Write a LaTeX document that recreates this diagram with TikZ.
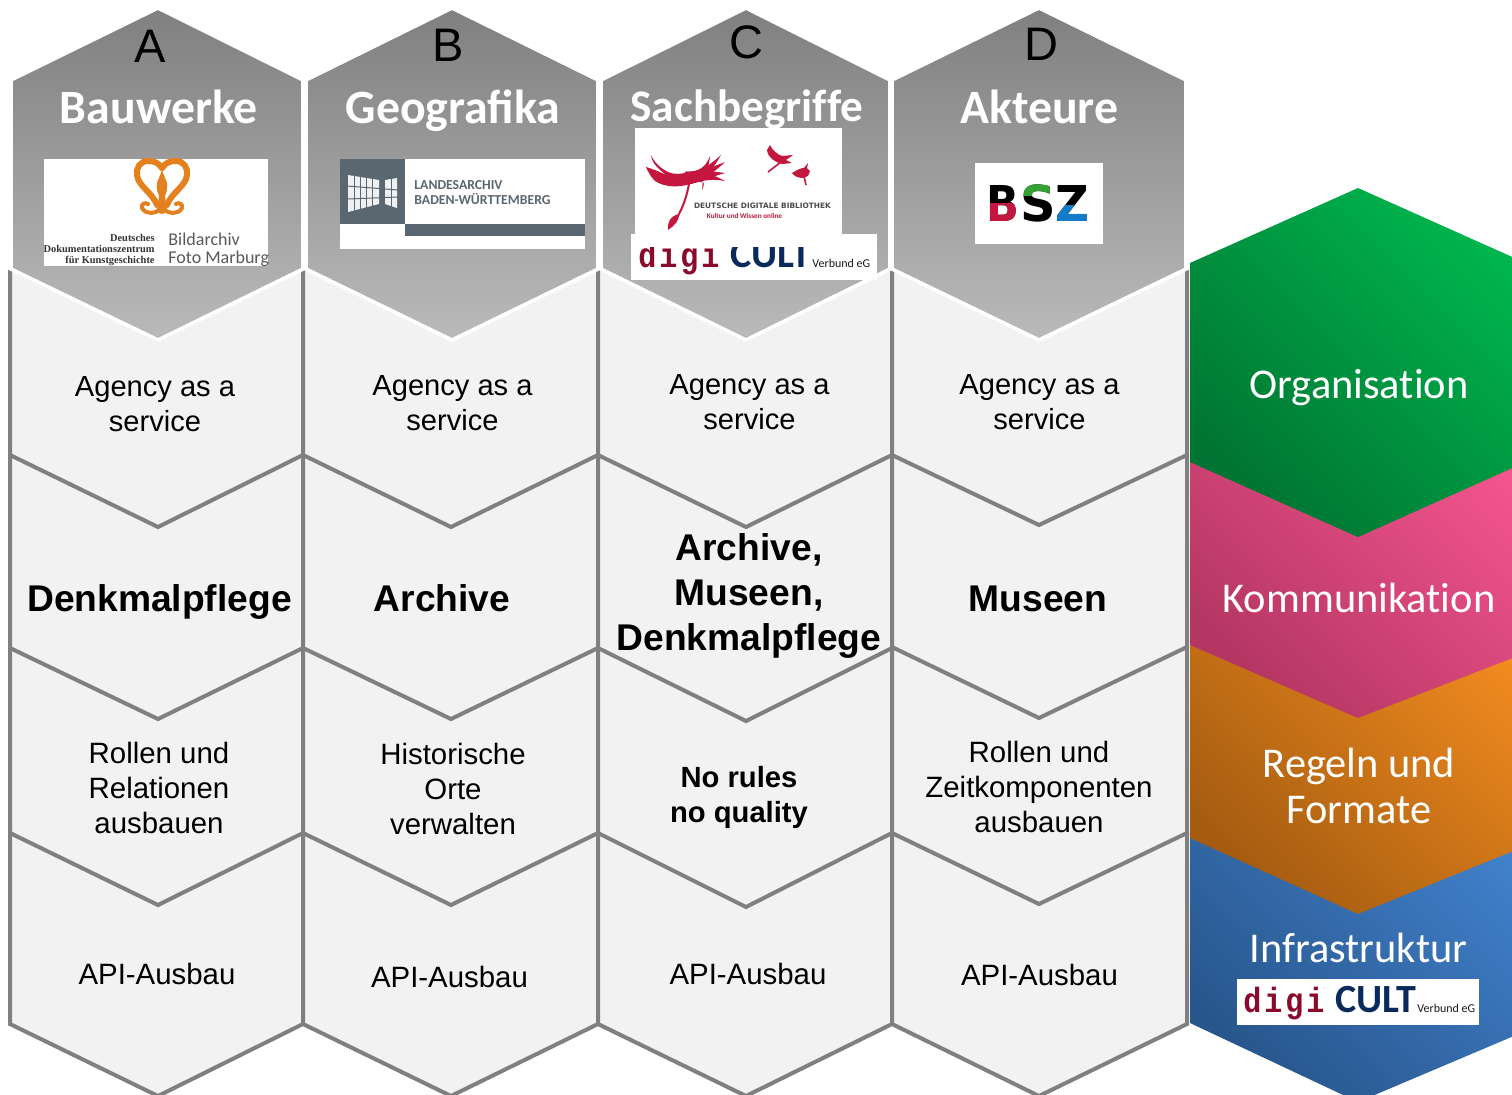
\documentclass[tikz,border=0pt]{standalone}
\usepackage{fontspec}
\setmainfont{Liberation Sans}
\newfontfamily\calfont{Carlito}
\newfontfamily\calplain[Ligatures=NoCommon]{Carlito}
\newfontfamily\monofnt[FakeStretch=0.86,LetterSpace=8.4]{Liberation Mono}
\newfontfamily\dejafnt{DejaVu Sans}
\newfontfamily\seriffnt{Liberation Serif}
\definecolor{ddbred}{HTML}{C4163F}
\definecolor{digired}{HTML}{8A0A2C}
\definecolor{diginavy}{HTML}{0B2A5C}
\definecolor{lagray}{HTML}{5A6670}
\definecolor{cellgray}{HTML}{F2F2F2}
\definecolor{cellline}{HTML}{808080}
\definecolor{ornam}{HTML}{E5801F}
\tikzset{
  cellshape/.style={fill=cellgray,draw=cellline,line width=2pt,line join=miter},
  headhex/.style={draw=white,line width=1.8pt,top color=black!50,bottom color=black!27,line join=miter},
  logobox/.style={fill=white,draw=none},
  letterlab/.style={anchor=base,inner sep=0pt,text=black,font=\fontsize{23.5}{26}\selectfont},
  headlab/.style={anchor=base,inner sep=0pt,text=white,font=\calfont\bfseries\fontsize{23.9}{26}\selectfont},
  celltext/.style={align=center,inner sep=0pt,text=black,font=\fontsize{14.7}{17.5}\selectfont},
  agencytext/.style={align=center,inner sep=0pt,text=black,font=\fontsize{14.55}{17.5}\selectfont},
  cellbold/.style={align=center,inner sep=0pt,text=black,font=\bfseries\fontsize{18.6}{22.6}\selectfont},
  cellsmallbold/.style={align=center,inner sep=0pt,text=black,font=\bfseries\fontsize{14.6}{17.5}\selectfont},
  sidelab/.style={align=center,inner sep=0pt,text=white,font=\calplain\fontsize{21.2}{23}\selectfont},
  smalltxt/.style={inner sep=0pt,anchor=base},
  bszfont/.style={inner sep=0pt,anchor=base,font=\dejafnt\bfseries\fontsize{24.7}{27}\selectfont},
}
\newcommand{\digilogo}[3]{% x of left text, baseline y, name prefix
  \node[smalltxt,anchor=base west,text=digired,font=\monofnt\bfseries\fontsize{17.5}{20}\selectfont] (#3digi) at (#1,#2) {digi};
  \node[smalltxt,anchor=base west,text=diginavy,font=\calfont\bfseries\fontsize{20}{22}\selectfont] (#3cult) at (#1+92,#2) {CULT};
  \node[smalltxt,anchor=base west,text=black!90,font=\calfont\fontsize{6}{8}\selectfont] (#3verb) at (#1+174,#2) {Verbund eG};
}
\newcommand{\bszl}[7]{% name, x, xscale, letter, colour, clip y0, y1
  \node[bszfont,xscale=#3,text=black] (#1) at (#2,221) {#4};
  \begin{scope}
    \clip (#2-25,#6) rectangle (#2+25,#7);
    \node[bszfont,xscale=#3,text=#5] (#1c) at (#2,221) {#4};
  \end{scope}
}
\begin{document}
\begin{tikzpicture}[x=0.5pt,y=-0.5pt]
\useasboundingbox (0,0) rectangle (1512,1094);
\clip (0,0) rectangle (1512,1094);
\fill[white] (0,0) rectangle (1512,1094);

% cells: bottom row first, upper rows overlap lower ones
\foreach \xa/\xc/\xb/\ra/\rb/\rc/\rd/\re/\rf/\rg/\rh in {
  10/158/303/455/527/648/719/833/905/1024/1096,
  303/451/598/455/527/648/719/833/905/1024/1096,
  598/746/892/455/527/648/721/833/907/1024/1096,
  892/1039/1187/455/525/647/718/833/904/1024/1096}{
  \path[cellshape] (\xa,\re) -- (\xa,\rg) -- (\xc,\rh) -- (\xb,\rg) -- (\xb,\re);
  \path[cellshape] (\xa,\rc) -- (\xa,\re) -- (\xc,\rf) -- (\xb,\re) -- (\xb,\rc);
  \path[cellshape] (\xa,\ra) -- (\xa,\rc) -- (\xc,\rd) -- (\xb,\rc) -- (\xb,\ra);
  \path[cellshape] (\xa,270) -- (\xa,\ra) -- (\xc,\rb) -- (\xb,\ra) -- (\xb,270);
}

% header hexagons
\foreach \xa/\xc/\xb in {11/158/303,306/452/598,601/746/890,892/1039/1186}{
  \path[headhex] (\xc,8) -- (\xb,80) -- (\xb,269) -- (\xc,340) -- (\xa,269) -- (\xa,80) -- cycle;
}

% header letters
\node[letterlab] (lA) at (150,62) {A};
\node[letterlab] (lB) at (448,61) {B};
\node[letterlab] (lC) at (746,58) {C};
\node[letterlab] (lD) at (1041,60) {D};

% header titles
\node[headlab] (tA) at (159,123) {Bauwerke};
\node[headlab] (tB) at (453,123) {Geografika};
\node[headlab,font=\calplain\bfseries\fontsize{22.6}{26}\selectfont] (tC) at (747,121) {Sachbegriffe};
\node[headlab] (tD) at (1039.5,123) {Akteure};

% logo A
\path[logobox] (44,159) rectangle (268,266);
\foreach \s in {1,-1}{
  \begin{scope}[shift={(162,0)},xscale=\s]
    \draw[color=ornam,line width=3pt,line cap=round]
      (0,168) .. controls (4,162) and (9,161) .. (14,161)
      .. controls (22,161) and (26,168) .. (25,175)
      .. controls (24,186) and (10,192) .. (5,205);
    \draw[color=ornam,line width=2pt,line cap=round]
      (2,209) .. controls (6,214) and (16,215) .. (20,208)
      .. controls (21,204) and (17,202) .. (14,204);
    \fill[ornam] (0,170) -- (3,178) .. controls (6,182) and (6,190) .. (3,196) -- (5,212) -- (0,214) -- cycle;
  \end{scope}
}
\node[smalltxt,anchor=base east,font=\seriffnt\bfseries\fontsize{5.2}{6}\selectfont,text=black!80] (dd1) at (155,241) {Deutsches};
\node[smalltxt,anchor=base east,font=\seriffnt\bfseries\fontsize{5.2}{6}\selectfont,text=black!80] (dd2) at (155,252) {Dokumentationszentrum};
\node[smalltxt,anchor=base east,font=\seriffnt\bfseries\fontsize{5.2}{6}\selectfont,text=black!80] (dd3) at (155,263) {für Kunstgeschichte};
\node[smalltxt,anchor=base west,font=\calfont\fontsize{9}{10}\selectfont,text=black!65] (fm1) at (168,245) {Bildarchiv};
\node[smalltxt,anchor=base west,font=\calfont\fontsize{9}{10}\selectfont,text=black!65] (fm2) at (168,263) {Foto Marburg};

% logo B
\path[logobox] (340,159) rectangle (585,249);
\fill[lagray] (340,159) rectangle (405,224);
\fill[lagray] (405,224) rectangle (585,236);
\fill[white!90!lagray] (348,175) -- (379,180) -- (379,204) -- (348,212) -- cycle;
\fill[white!90!lagray] (385,180) -- (397,178) -- (397,208) -- (385,204) -- cycle;
\foreach \xx in {354,360,366,372}{\draw[lagray,line width=0.5pt] (\xx,172) -- (\xx,214);}
\foreach \xx in {391}{\draw[lagray,line width=0.5pt] (\xx,176) -- (\xx,210);}
\draw[lagray,line width=0.5pt] (347,186) -- (398,190);
\draw[lagray,line width=0.5pt] (347,199) -- (398,197);
\node[smalltxt,anchor=base west,font=\calfont\bfseries\fontsize{6.85}{8}\selectfont,text=lagray] (la1) at (414,189) {LANDESARCHIV};
\node[smalltxt,anchor=base west,font=\calfont\bfseries\fontsize{6.85}{8}\selectfont,text=lagray] (la2) at (414,204) {BADEN-WÜRTTEMBERG};

% logo C
\path[logobox] (635,128) rectangle (842,235);
% large seed head: left lobe with slit
\fill[ddbred] (651,155) .. controls (654,162) and (660,168) .. (668,172)
  .. controls (675,175) and (682,174) .. (688,172) -- (690,184)
  .. controls (678,188) and (664,187) .. (655,181)
  .. controls (651,177) and (648,172) .. (646,167)
  .. controls (653,169) and (660,172) .. (666,175)
  .. controls (659,169) and (652,164) .. (651,155) -- cycle;
% fingers of the large head
\foreach \tx/\ty in {710/156,721/155,725/162,725/173,725/181,702/190}{
  \fill[ddbred] (685,172) .. controls (695,172) and (705,170) .. (\tx,\ty) .. controls (708,178) and (698,182) .. (690,184) -- cycle;
}
\draw[ddbred,line width=1pt] (689,184) .. controls (686,200) and (682,208) .. (678,216);
\fill[ddbred] (679,214) .. controls (680,220) and (674,226) .. (668,230) .. controls (667,223) and (670,216) .. (679,214) -- cycle;
% small seed heads
\fill[ddbred] (770,145) .. controls (772,150) and (778,155) .. (782,156) -- (793,155) -- (786,160) -- (792,163) -- (782,164)
  .. controls (775,162) and (768,158) .. (767,150) -- cycle;
\draw[ddbred,line width=0.8pt] (781,162) -- (768,172);
\fill[ddbred] (792,173) .. controls (798,169) and (802,168) .. (804,168) -- (808,163) -- (807,168) -- (810,171) -- (808,176) -- (803,178)
  .. controls (798,178) and (794,176) .. (792,173) -- cycle;
\draw[ddbred,line width=0.8pt] (804,176) -- (806,185);
\node[smalltxt,font=\dejafnt\bfseries\fontsize{3.7}{5}\selectfont,text=black!70] (ddb1) at (762.5,208) {DEUTSCHE DIGITALE BIBLIOTHEK};
\node[smalltxt,font=\calfont\bfseries\fontsize{3.6}{5}\selectfont,text=ddbred] (ddb2) at (744.5,218) {Kultur und Wissen online};

% digiCULT in column C (its upper edge is cut by a white strip)
\path[logobox] (631,234) rectangle (877,280);
\digilogo{638}{267}{cTop}
\path[logobox] (631,234) rectangle (877,247);

% logo D
\path[logobox] (975,163) rectangle (1103,244);
\bszl{bszB}{1003}{0.87}{B}{ddbred}{203}{230}
\bszl{bszS}{1038}{1}{S}{green!55!black!80!white}{180}{195}
\bszl{bszZ}{1072.5}{0.94}{Z}{cyan!60!blue}{205}{230}

% cell texts, row 1
\node[agencytext] (a1) at (155,404) {Agency as a\\service};
\node[agencytext] (b1) at (452.5,403) {Agency as a\\service};
\node[agencytext] (c1) at (749.5,402) {Agency as a\\service};
\node[agencytext] (d1) at (1039.5,402) {Agency as a\\service};
% row 2
\node[cellbold] (a2) at (159.5,602) {Denkmalpflege};
\node[cellbold] (b2) at (442,598) {Archive};
\node[cellbold] (c2) at (749,596) {Archive,\\Museen,\\Denkmalpflege};
\node[cellbold] (d2) at (1038,599) {Museen};
% row 3
\node[celltext] (a3) at (159,788) {Rollen und\\Relationen\\ausbauen};
\node[celltext] (b3) at (453,789) {Historische\\Orte\\verwalten};
\node[cellsmallbold] (c3) at (739,797) {No rules\\no quality};
\node[celltext] (d3) at (1039,787) {Rollen und\\Zeitkomponenten\\ausbauen};
% row 4
\node[celltext] (a4) at (157,974) {API-Ausbau};
\node[celltext] (b4) at (449.5,977) {API-Ausbau};
\node[celltext] (c4) at (748,974) {API-Ausbau};
\node[celltext] (d4) at (1039.5,975) {API-Ausbau};

% right-hand stack
\path[top color={rgb,255:red,66;green,130;blue,206},bottom color={rgb,255:red,40;green,86;blue,140},shading angle=-45] (1190,830) -- (1358,760) -- (1528,830) -- (1528,1030) -- (1358,1102) -- (1190,1023) -- cycle;
\path[top color={rgb,255:red,243;green,140;blue,32},bottom color={rgb,255:red,165;green,92;blue,16},shading angle=-45] (1190,640) -- (1358,570) -- (1528,640) -- (1528,845) -- (1358,914) -- (1190,838) -- cycle;
\path[top color={rgb,255:red,246;green,86;blue,144},bottom color={rgb,255:red,180;green,54;blue,98},shading angle=-45] (1190,455) -- (1358,380) -- (1528,455) -- (1528,652) -- (1358,718) -- (1190,645) -- cycle;
\path[top color={rgb,255:red,0;green,181;blue,77},bottom color={rgb,255:red,0;green,116;blue,50},shading angle=-45] (1358,188) -- (1528,264) -- (1528,461) -- (1358,537) -- (1190,462) -- (1190,263) -- cycle;

\node[sidelab] (s1) at (1359,388) {Organisation};
\node[sidelab] (s2) at (1359,598) {Kommunikation};
\node[sidelab] (s3) at (1359,786) {Regeln und\\Formate};
\node[sidelab] (s4) at (1358.5,948) {Infrastruktur};

% digiCULT in the blue hexagon
\path[logobox] (1237,979) rectangle (1479,1025);
\digilogo{1243}{1012}{s}
\end{tikzpicture}
\end{document}
